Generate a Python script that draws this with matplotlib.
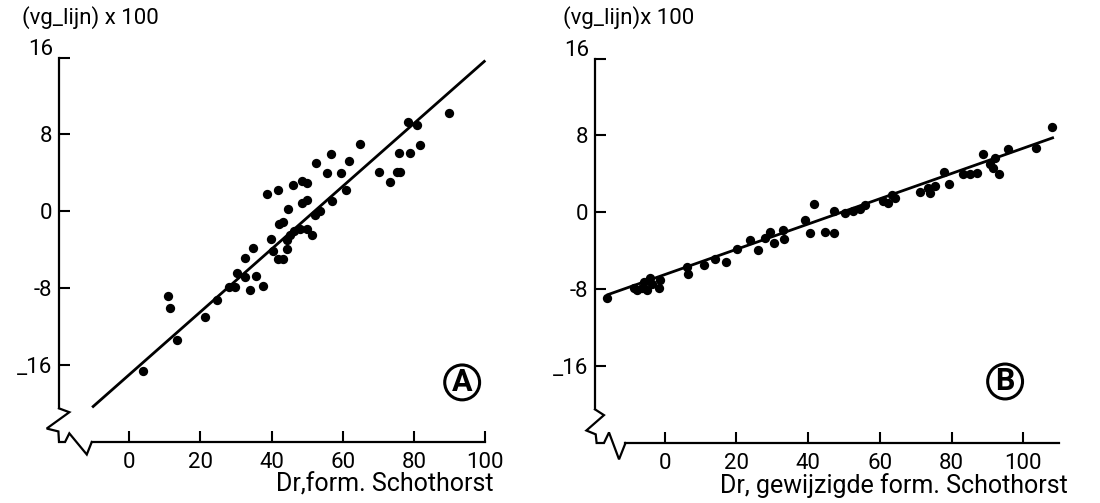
import numpy as np
import matplotlib
matplotlib.use("Agg")
import matplotlib.pyplot as plt

plt.rcParams['font.family'] = ['Roboto', 'DejaVu Sans']

# Panel A: Dr, form. Schothorst vs (vg - lijn) x 100
a_x = [89.7, 78.2, 80.8, 81.6, 78.9, 75.7, 64.9, 56.7, 61.6, 52.4, 55.5, 59.6,
       70.2, 75.2, 76.1, 73.3, 60.9, 48.5, 49.9, 45.9, 41.8, 38.7, 56.9, 49.9,
       48.5, 44.5, 53.7, 52.2, 43.3, 42.2, 46.2, 48.0, 49.9, 51.3, 45.2, 44.3,
       39.9, 40.5, 44.3, 34.7, 41.9, 43.3, 32.4, 30.4, 32.6, 35.7, 27.9, 29.8,
       34.0, 37.7, 10.9, 24.6, 11.5, 21.3, 13.4, 4.0]
a_y = [10.2, 9.3, 9.0, 6.9, 6.1, 6.1, 7.0, 6.0, 5.2, 5.0, 4.0, 4.0,
       4.1, 4.1, 4.1, 3.1, 2.2, 3.2, 2.9, 2.7, 2.2, 1.8, 1.1, 1.15,
       0.9, 0.2, 0.0, -0.35, -1.1, -1.3, -2.0, -1.8, -1.8, -2.5, -2.5, -3.0,
       -2.85, -4.1, -3.9, -3.8, -5.0, -5.0, -4.9, -6.4, -6.8, -6.7, -7.9, -7.9,
       -8.2, -7.8, -8.85, -9.2, -10.1, -11.0, -13.4, -16.6]
fit_a_x = [-10.4, 100]
fit_a_y = [-20.4, 15.7]

# Panel B: Dr, gewijzigde form. Schothorst
b_x = [108.1, 103.5, 95.8, 88.7, 92.1, 90.7, 93.3, 91.4, 87.0, 85.2, 83.3, 78.0,
       79.4, 75.4, 73.5, 71.2, 74.1, 63.3, 64.3, 61.0, 62.4, 55.9, 54.5, 52.6,
       50.3, 47.1, 41.5, 39.2, 40.6, 44.8, 47.1, 33.1, 33.3, 29.4, 30.4, 28.0,
       23.9, 25.9, 20.2, 17.2, 14.1, 11.1, 6.2, 6.4, -1.2, -1.7, -3.5, -4.9,
       -6.3, -7.7, -4.0, -5.8, -8.6, -16.0]
b_y = [8.85, 6.7, 6.6, 6.1, 5.7, 5.0, 4.0, 4.6, 4.1, 4.0, 3.95, 4.2,
       2.9, 2.7, 2.5, 2.1, 2.0, 1.8, 1.5, 1.15, 0.95, 0.8, 0.4, 0.1,
       -0.07, 0.1, 0.9, -0.8, -2.1, -2.0, -2.1, -1.8, -2.8, -2.0, -3.2, -2.7,
       -2.85, -3.9, -3.8, -5.2, -4.9, -5.45, -5.7, -6.4, -7.0, -7.9, -7.5, -8.05,
       -7.9, -8.05, -6.8, -7.2, -7.9, -8.9]
fit_b_x = [-16.1, 108.5]
fit_b_y = [-8.6, 7.8]

y_ticks = [-16, -8, 0, 8]
y_labels = ['_16', '-8', '0', '8']
x_ticks = [0, 20, 40, 60, 80, 100]
x_labels = ['0', '20', '40', '60', '80', '100']

fig = plt.figure(figsize=(11, 5.03), dpi=100)


def panel(rect, xlo, xhi, xaxis_end, xs, ys, fx, fy, brk_dx, brk_y, xlabel, letter, letter_xy):
    ax = fig.add_axes(rect)
    ax.set_xlim(xlo, xhi)
    ax.set_ylim(-24, 17)
    for s in ['top', 'right']:
        ax.spines[s].set_visible(False)
    ax.spines['left'].set_bounds(-20.5, 16)
    ax.spines['bottom'].set_bounds(xlo + brk_dx[-1], xaxis_end)
    for s in ['left', 'bottom']:
        ax.spines[s].set_linewidth(1.6)
    ax.set_yticks(y_ticks + [16])
    ax.set_yticklabels(y_labels + [''])
    ax.set_xticks(x_ticks)
    ax.set_xticklabels(x_labels)
    ax.tick_params(direction='in', length=8, width=1.5, labelsize=16, pad=5)
    ax.tick_params(axis='x', pad=7)
    ax.annotate('16', xy=(0, 16), xycoords=('axes fraction', 'data'),
                xytext=(-4, 6), textcoords='offset points',
                ha='right', va='center', fontsize=16)

    # axis break zigzag
    ax.plot([xlo + d for d in brk_dx], brk_y, color='black', lw=1.6,
            clip_on=False, solid_joinstyle='miter')

    ax.plot(fx, fy, color='black', lw=2.0, solid_capstyle='butt')
    ax.scatter(xs, ys, s=45, color='black', zorder=3, linewidths=0)

    ax.annotate(xlabel, xy=(xaxis_end, -24), xycoords='data',
                xytext=(6, -22), textcoords='offset points',
                ha='right', va='top', fontsize=18)
    ax.text(letter_xy[0], letter_xy[1], letter, fontsize=22, fontweight='bold',
            ha='center', va='center',
            bbox=dict(boxstyle='circle,pad=0.08', fc='white', ec='black', lw=2.2))
    return ax


panel([59 / 1100, 61 / 503, 437 / 1100, 394 / 503], -19.7, 103, 100,
      a_x, a_y, fit_a_x, fit_a_y,
      [0, 2.9, -3.45, -0.17, 0, 1.7, 2.9, 7.8, 9.2],
      [-20.5, -20.9, -22.6, -22.9, -24, -24, -23.1, -25.3, -24],
      'Dr,form. Schothorst', 'A', (93.5, -17.8))

panel([595 / 1100, 60 / 503, 465 / 1100, 394 / 503], -19.4, 110.2, 110,
      b_x, b_y, fit_b_x, fit_b_y,
      [0, 2.5, -2.4, 0.2, 0.45, 2.5, 3.9, 6.7, 8.5],
      [-20.5, -21.1, -22.7, -23.1, -24, -24, -22.9, -25.7, -24],
      'Dr, gewijzigde form. Schothorst', 'B', (94.9, -17.6))

fig.text(22 / 1100, 1 - 18 / 503, '(vg_lijn) x 100', fontsize=16, va='center', ha='left')
fig.text(563 / 1100, 1 - 18 / 503, '(vg_lijn)x 100', fontsize=16, va='center', ha='left')

fig.savefig('out.png', dpi=100, facecolor='white')
